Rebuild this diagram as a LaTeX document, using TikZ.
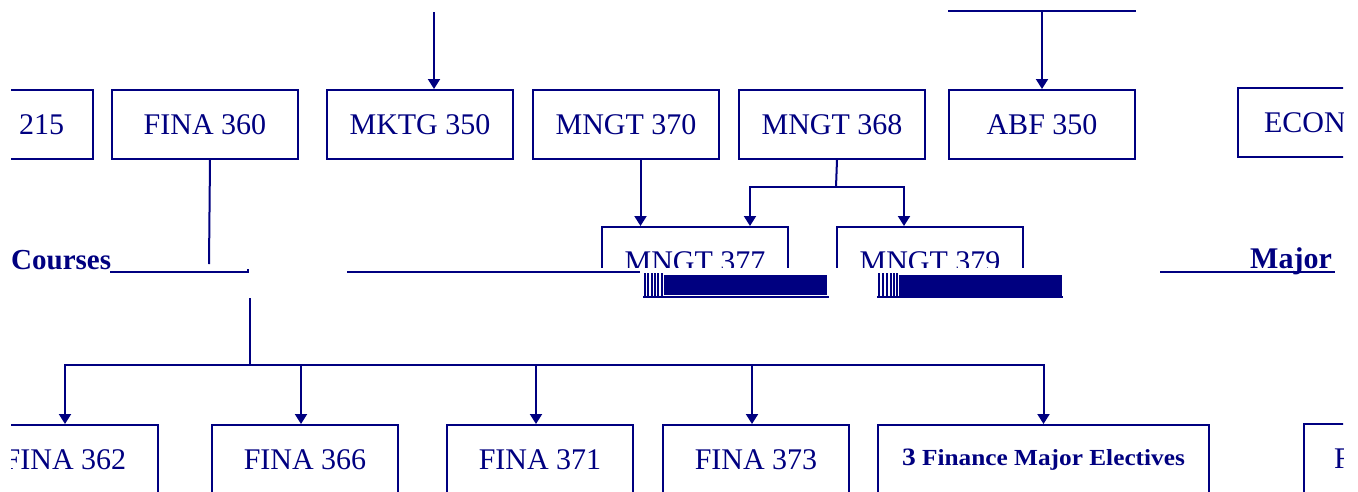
\documentclass[tikz,border=0pt]{standalone}
\usepackage{fontspec}
\usepackage{graphicx}
\setmainfont{Liberation Serif}
\usetikzlibrary{arrows.meta}
\definecolor{navyb}{RGB}{0,0,128}
\begin{document}
\begin{tikzpicture}[x=1pt,y=-1pt,
  line/.style={draw=navyb, line width=2pt},
  arr/.style={line, -{Triangle[width=12pt,length=10pt]}},
  box/.style={draw=navyb, line width=2pt, minimum width=186pt, minimum height=69pt,
    inner sep=0pt, text=navyb, font=\fontsize{30}{36}\selectfont, anchor=north west},
  lblb/.style={text=navyb, inner sep=0pt, font=\fontsize{29}{34}\selectfont\bfseries},
  glitch/.style={fill=navyb, draw=none}]
\useasboundingbox (0,0) rectangle (1358,491);
\clip (11,0) rectangle (1343,491);
% top row
\node[box] (a215) at (-94,89) {\makebox[128pt][r]{T 215}};
\node[box] (f360) at (111,89) {FINA 360};
\node[box] (k350) at (326,89) {MKTG 350};
\node[box] (m370) at (532,89) {MNGT 370};
\node[box] (m368) at (738,89) {MNGT 368};
\node[box] (b350) at (948,89) {ABF 350};
\node[box] (econ) at (1237,87) {\makebox[134pt][l]{ECON}};
% incoming lines at top
\coordinate (t1) at (434,12);
\draw[arr] (t1) -- (t1 |- k350.north);
\coordinate (tl) at (948,11);
\coordinate (tr) at (1136,11);
\coordinate (tm) at (1042,11);
\draw[line] (tl) -- (tr);
\draw[arr] (tm) -- (tm |- b350.north);
% middle row, lower part hidden
\begin{scope}
\clip (0,0) rectangle (1358,267);
\node[box] (m377) at (601,226) {\raisebox{-4pt}{MNGT 377}};
\node[box] (m379) at (836,226) {\raisebox{-4pt}{MNGT 379}};
\end{scope}
\draw[arr] ([xshift=14.5pt]m370.south) -- ([xshift=14.5pt]m370.south |- m377.north);
\coordinate (b68) at (836,187);
\draw[line] ([xshift=5pt]m368.south) -- (b68);
\draw[arr] (b68) -| ([xshift=55pt]m377.north);
\draw[arr] (b68) -| ([xshift=-26pt]m379.north);
% FINA 360 down
\coordinate (f60e) at (209,264);
\draw[line] ([xshift=5pt]f360.south) -- (f60e);
% band labels and lines
\node[lblb, anchor=base west] (courses) at (11,269) {Courses};
\node[lblb, anchor=base west, font=\fontsize{30}{34}\selectfont\bfseries] (major) at (1250,268) {Major};
\coordinate (h1a) at (110,272); \coordinate (h1b) at (248,272);
\coordinate (h2a) at (347,272); \coordinate (h2b) at (640,272);
\coordinate (h3a) at (1160,272); \coordinate (h3b) at (1335,272);
\draw[line] (h1a) -- (h1b) -- ++(0,-3);
\draw[line] (h2a) -- (h2b);
\draw[line] (h3a) -- (h3b);
% rendering band
\fill[glitch] (664,275) rectangle (827,295);
\fill[glitch] (899,275) rectangle (1062,296);
\foreach \x in {645,648,652,655,658,662} \draw[draw=navyb, line width=1.1pt] (\x,273) -- (\x,297);
\foreach \x in {879,883,887,891,894,897} \draw[draw=navyb, line width=1.1pt] (\x,273) -- (\x,297);
\draw[draw=navyb, line width=1.2pt] (643,297) -- (829,297);
\draw[draw=navyb, line width=1.2pt] (877,297) -- (1063,297);
% bottom row
\node[box] (f362) at (-29,424) {FINA 362};
\node[box] (f366) at (211,424) {FINA 366};
\node[box] (f371) at (446,424) {FINA 371};
\node[box] (f373) at (662,424) {FINA 373};
\node[box, minimum width=331pt] (elec) at (877,424)
  {\scalebox{1.1}[1]{\fontsize{23}{28}\selectfont\bfseries {\fontsize{25}{28}\selectfont 3} Finance Major Electives}};
\node[box] (fx) at (1303,423) {\makebox[126pt][l]{F}};
% bus to bottom row
\coordinate (vtop) at (250,298);
\coordinate (bus) at (250,365);
\draw[line] (vtop) -- (bus);
\draw[arr] (bus) -| (f362.north);
\draw[arr] (bus) -| ([xshift=-4pt]f366.north);
\draw[arr] (bus) -| ([xshift=-4pt]f371.north);
\draw[arr] (bus) -| ([xshift=-4pt]f373.north);
\draw[arr] (bus) -| (elec.north);
\end{tikzpicture}
\end{document}
